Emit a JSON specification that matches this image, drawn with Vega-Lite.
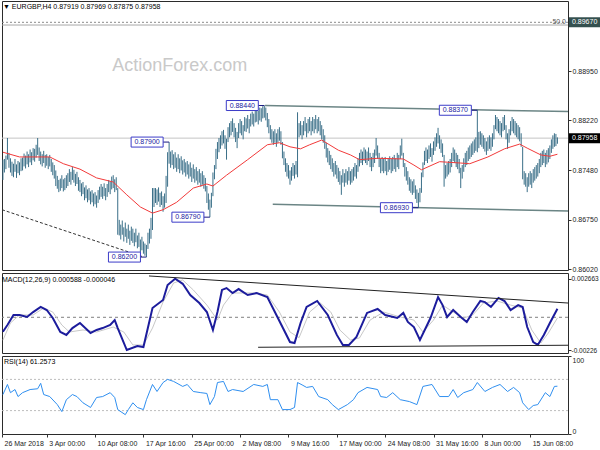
{
"$schema": "https://vega.github.io/schema/vega-lite/v6.json",
"padding": {"left": -2, "top": 0, "right": 0, "bottom": 0},
"background": "white",
"bounds": "flush",
"spacing": 3,
"config": {"view": {"stroke": "#2b2b2b", "strokeWidth": 1}, "font": "Liberation Sans", "axis": {"labelFont": "Liberation Sans", "labelFontSize": 7, "labelColor": "#222", "tickColor": "#333", "tickSize": 3, "domain": false, "grid": false}},
"vconcat": [
{
"width": 566, "height": 269,
"title": {"text": "▼ EURGBP,H4  0.87919 0.87969 0.87875 0.87958", "anchor": "start", "offset": -9, "dx": 3, "fontSize": 7, "fontWeight": "normal", "color": "#000000", "font": "Liberation Sans"},
"layer": [
{"data": {"values": [{"p": 0.8967}]}, "mark": {"type": "rule", "color": "#8a8a8a", "strokeDash": [2, 2], "strokeWidth": 1}, "encoding": {"y": {"field": "p", "type": "quantitative"}}},
{"data": {"values": [{"p": 0.8963}]}, "mark": {"type": "rule", "color": "#a8a8a8", "strokeWidth": 1}, "encoding": {"y": {"field": "p", "type": "quantitative"}}},
{"data": {"values": [{"p": 0.87958}]}, "mark": {"type": "rule", "color": "#c4c4c4", "strokeWidth": 1}, "encoding": {"y": {"field": "p", "type": "quantitative"}}},
{"data": {"values": [{"p": 0.8967, "t": "50.0"}]}, "mark": {"type": "text", "fontSize": 7, "color": "#555555", "align": "right", "baseline": "middle", "xOffset": -2}, "encoding": {"x": {"value": "width"}, "y": {"field": "p", "type": "quantitative"}, "text": {"field": "t", "type": "nominal"}}},
{"data": {"values": [{"w": "ActionForex.com"}]}, "mark": {"type": "text", "fontSize": 18, "font": "Liberation Sans", "color": "#c9c9c9", "align": "center", "baseline": "middle"}, "encoding": {"x": {"datum": 120, "type": "quantitative", "axis": null}, "y": {"datum": 0.8903, "type": "quantitative"}, "text": {"field": "w", "type": "nominal"}}},
{"data": {"values": [{"i": 176.5, "p": 0.8844}, {"i": 377, "p": 0.8835}]}, "mark": {"type": "line", "color": "#6b8585", "strokeWidth": 1.5}, "encoding": {"x": {"field": "i", "type": "quantitative", "axis": null}, "y": {"field": "p", "type": "quantitative"}}},
{"data": {"values": [{"i": 181.6, "p": 0.8698}, {"i": 377, "p": 0.8688}]}, "mark": {"type": "line", "color": "#6b8585", "strokeWidth": 1.5}, "encoding": {"x": {"field": "i", "type": "quantitative", "axis": null}, "y": {"field": "p", "type": "quantitative"}}},
{"data": {"values": [{"i": 2.4, "p": 0.869}, {"i": 95, "p": 0.8621}]}, "mark": {"type": "line", "color": "#333333", "strokeWidth": 1, "strokeDash": [3, 2]}, "encoding": {"x": {"field": "i", "type": "quantitative", "axis": null}, "y": {"field": "p", "type": "quantitative"}}},
{"data": {"values": [
{"i":3,"h":0.8764,"l":0.8734},{"i":4,"h":0.8765,"l":0.8745},{"i":5,"h":0.8770,"l":0.8750},{"i":6,"h":0.8796,"l":0.8764},{"i":7,"h":0.8774,"l":0.8752},{"i":8,"h":0.8766,"l":0.8745},{"i":9,"h":0.8761,"l":0.8740},{"i":10,"h":0.8758,"l":0.8738},{"i":11,"h":0.8765,"l":0.8746},{"i":12,"h":0.8757,"l":0.8737},{"i":13,"h":0.8762,"l":0.8744},{"i":14,"h":0.8760,"l":0.8741},{"i":15,"h":0.8766,"l":0.8747},{"i":16,"h":0.8767,"l":0.8748},{"i":17,"h":0.8773,"l":0.8754},{"i":18,"h":0.8770,"l":0.8751},{"i":19,"h":0.8776,"l":0.8757},{"i":20,"h":0.8772,"l":0.8753},{"i":21,"h":0.8779,"l":0.8760},{"i":22,"h":0.8775,"l":0.8756},{"i":23,"h":0.8781,"l":0.8763},{"i":24,"h":0.8780,"l":0.8761},{"i":25,"h":0.8786,"l":0.8767},{"i":26,"h":0.8796,"l":0.8771},{"i":27,"h":0.8782,"l":0.8762},{"i":28,"h":0.8776,"l":0.8757},{"i":29,"h":0.8772,"l":0.8754},{"i":30,"h":0.8777,"l":0.8759},{"i":31,"h":0.8771,"l":0.8752},{"i":32,"h":0.8772,"l":0.8755},{"i":33,"h":0.8768,"l":0.8750},{"i":34,"h":0.8771,"l":0.8754},{"i":35,"h":0.8765,"l":0.8746},{"i":36,"h":0.8760,"l":0.8741},{"i":37,"h":0.8756,"l":0.8736},{"i":38,"h":0.8748,"l":0.8725},{"i":39,"h":0.8740,"l":0.8721},{"i":40,"h":0.8734,"l":0.8716},{"i":41,"h":0.8736,"l":0.8718},{"i":42,"h":0.8741,"l":0.8722},{"i":43,"h":0.8735,"l":0.8717},{"i":44,"h":0.8737,"l":0.8719},{"i":45,"h":0.8741,"l":0.8722},{"i":46,"h":0.8744,"l":0.8725},{"i":47,"h":0.8750,"l":0.8731},{"i":48,"h":0.8746,"l":0.8727},{"i":49,"h":0.8753,"l":0.8734},{"i":50,"h":0.8749,"l":0.8730},{"i":51,"h":0.8743,"l":0.8725},{"i":52,"h":0.8746,"l":0.8728},{"i":53,"h":0.8738,"l":0.8718},{"i":54,"h":0.8734,"l":0.8716},{"i":55,"h":0.8729,"l":0.8710},{"i":56,"h":0.8731,"l":0.8713},{"i":57,"h":0.8723,"l":0.8704},{"i":58,"h":0.8726,"l":0.8707},{"i":59,"h":0.8720,"l":0.8701},{"i":60,"h":0.8722,"l":0.8704},{"i":61,"h":0.8717,"l":0.8698},{"i":62,"h":0.8719,"l":0.8701},{"i":63,"h":0.8714,"l":0.8695},{"i":64,"h":0.8716,"l":0.8698},{"i":65,"h":0.8711,"l":0.8693},{"i":66,"h":0.8719,"l":0.8700},{"i":67,"h":0.8724,"l":0.8705},{"i":68,"h":0.8728,"l":0.8709},{"i":69,"h":0.8724,"l":0.8706},{"i":70,"h":0.8729,"l":0.8710},{"i":71,"h":0.8722,"l":0.8704},{"i":72,"h":0.8728,"l":0.8709},{"i":73,"h":0.8734,"l":0.8716},{"i":74,"h":0.8732,"l":0.8713},{"i":75,"h":0.8739,"l":0.8720},{"i":76,"h":0.8741,"l":0.8722},{"i":77,"h":0.8735,"l":0.8716},{"i":78,"h":0.8738,"l":0.8719},{"i":79,"h":0.8722,"l":0.8653},{"i":80,"h":0.8675,"l":0.8652},{"i":81,"h":0.8668,"l":0.8646},{"i":82,"h":0.8674,"l":0.8653},{"i":83,"h":0.8664,"l":0.8643},{"i":84,"h":0.8671,"l":0.8650},{"i":85,"h":0.8662,"l":0.8641},{"i":86,"h":0.8668,"l":0.8647},{"i":87,"h":0.8659,"l":0.8638},{"i":88,"h":0.8665,"l":0.8644},{"i":89,"h":0.8662,"l":0.8641},{"i":90,"h":0.8656,"l":0.8636},{"i":91,"h":0.8662,"l":0.8642},{"i":92,"h":0.8652,"l":0.8633},{"i":93,"h":0.8656,"l":0.8635},{"i":94,"h":0.8646,"l":0.8627},{"i":95,"h":0.8650,"l":0.8630},{"i":96,"h":0.8643,"l":0.8625},{"i":97,"h":0.8640,"l":0.8622},{"i":98,"h":0.8638,"l":0.8620},{"i":99,"h":0.8656,"l":0.8632},{"i":100,"h":0.8662,"l":0.8640},{"i":101,"h":0.8678,"l":0.8647},{"i":102,"h":0.8722,"l":0.8660},{"i":103,"h":0.8722,"l":0.8694},{"i":104,"h":0.8722,"l":0.8700},{"i":105,"h":0.8720,"l":0.8697},{"i":106,"h":0.8723,"l":0.8702},{"i":107,"h":0.8715,"l":0.8694},{"i":108,"h":0.8717,"l":0.8697},{"i":109,"h":0.8710,"l":0.8687},{"i":110,"h":0.8714,"l":0.8693},{"i":111,"h":0.8740,"l":0.8700},{"i":112,"h":0.8775,"l":0.8724},{"i":113,"h":0.8790,"l":0.8758},{"i":114,"h":0.8776,"l":0.8752},{"i":115,"h":0.8778,"l":0.8756},{"i":116,"h":0.8772,"l":0.8750},{"i":117,"h":0.8775,"l":0.8752},{"i":118,"h":0.8767,"l":0.8746},{"i":119,"h":0.8772,"l":0.8750},{"i":120,"h":0.8766,"l":0.8744},{"i":121,"h":0.8769,"l":0.8748},{"i":122,"h":0.8763,"l":0.8742},{"i":123,"h":0.8765,"l":0.8745},{"i":124,"h":0.8760,"l":0.8739},{"i":125,"h":0.8762,"l":0.8742},{"i":126,"h":0.8757,"l":0.8736},{"i":127,"h":0.8760,"l":0.8739},{"i":128,"h":0.8752,"l":0.8731},{"i":129,"h":0.8757,"l":0.8736},{"i":130,"h":0.8750,"l":0.8730},{"i":131,"h":0.8753,"l":0.8733},{"i":132,"h":0.8747,"l":0.8727},{"i":133,"h":0.8750,"l":0.8730},{"i":134,"h":0.8744,"l":0.8724},{"i":135,"h":0.8747,"l":0.8727},{"i":136,"h":0.8741,"l":0.8721},{"i":137,"h":0.8737,"l":0.8717},{"i":138,"h":0.8725,"l":0.8700},{"i":139,"h":0.8714,"l":0.8690},{"i":140,"h":0.8705,"l":0.8679},{"i":141,"h":0.8715,"l":0.8693},{"i":142,"h":0.8745,"l":0.8710},{"i":143,"h":0.8756,"l":0.8735},{"i":144,"h":0.8780,"l":0.8750},{"i":145,"h":0.8790,"l":0.8765},{"i":146,"h":0.8796,"l":0.8775},{"i":147,"h":0.8800,"l":0.8780},{"i":148,"h":0.8806,"l":0.8785},{"i":149,"h":0.8808,"l":0.8788},{"i":150,"h":0.8800,"l":0.8780},{"i":151,"h":0.8795,"l":0.8764},{"i":152,"h":0.8812,"l":0.8790},{"i":153,"h":0.8818,"l":0.8797},{"i":154,"h":0.8821,"l":0.8800},{"i":155,"h":0.8825,"l":0.8805},{"i":156,"h":0.8818,"l":0.8797},{"i":157,"h":0.8811,"l":0.8790},{"i":158,"h":0.8805,"l":0.8781},{"i":159,"h":0.8818,"l":0.8796},{"i":160,"h":0.8824,"l":0.8803},{"i":161,"h":0.8821,"l":0.8800},{"i":162,"h":0.8815,"l":0.8794},{"i":163,"h":0.8827,"l":0.8806},{"i":164,"h":0.8825,"l":0.8805},{"i":165,"h":0.8830,"l":0.8810},{"i":166,"h":0.8824,"l":0.8803},{"i":167,"h":0.8832,"l":0.8813},{"i":168,"h":0.8835,"l":0.8816},{"i":169,"h":0.8832,"l":0.8813},{"i":170,"h":0.8838,"l":0.8819},{"i":171,"h":0.8839,"l":0.8820},{"i":172,"h":0.8836,"l":0.8816},{"i":173,"h":0.8841,"l":0.8822},{"i":174,"h":0.8840,"l":0.8820},{"i":175,"h":0.8843,"l":0.8825},{"i":176,"h":0.8844,"l":0.8826},{"i":177,"h":0.8841,"l":0.8822},{"i":178,"h":0.8833,"l":0.8812},{"i":179,"h":0.8824,"l":0.8803},{"i":180,"h":0.8815,"l":0.8794},{"i":181,"h":0.8809,"l":0.8789},{"i":182,"h":0.8806,"l":0.8786},{"i":183,"h":0.8809,"l":0.8789},{"i":184,"h":0.8803,"l":0.8783},{"i":185,"h":0.8809,"l":0.8789},{"i":186,"h":0.8812,"l":0.8792},{"i":187,"h":0.8806,"l":0.8786},{"i":188,"h":0.8790,"l":0.8766},{"i":189,"h":0.8776,"l":0.8756},{"i":190,"h":0.8766,"l":0.8746},{"i":191,"h":0.8759,"l":0.8739},{"i":192,"h":0.8756,"l":0.8736},{"i":193,"h":0.8748,"l":0.8727},{"i":194,"h":0.8753,"l":0.8733},{"i":195,"h":0.8759,"l":0.8740},{"i":196,"h":0.8756,"l":0.8736},{"i":197,"h":0.8762,"l":0.8742},{"i":198,"h":0.8834,"l":0.8738},{"i":199,"h":0.8818,"l":0.8797},{"i":200,"h":0.8821,"l":0.8800},{"i":201,"h":0.8815,"l":0.8794},{"i":202,"h":0.8821,"l":0.8800},{"i":203,"h":0.8827,"l":0.8806},{"i":204,"h":0.8818,"l":0.8797},{"i":205,"h":0.8824,"l":0.8803},{"i":206,"h":0.8827,"l":0.8806},{"i":207,"h":0.8821,"l":0.8800},{"i":208,"h":0.8827,"l":0.8806},{"i":209,"h":0.8824,"l":0.8803},{"i":210,"h":0.8830,"l":0.8809},{"i":211,"h":0.8824,"l":0.8803},{"i":212,"h":0.8827,"l":0.8806},{"i":213,"h":0.8821,"l":0.8800},{"i":214,"h":0.8815,"l":0.8794},{"i":215,"h":0.8809,"l":0.8789},{"i":216,"h":0.8800,"l":0.8780},{"i":217,"h":0.8789,"l":0.8767},{"i":218,"h":0.8781,"l":0.8760},{"i":219,"h":0.8777,"l":0.8756},{"i":220,"h":0.8771,"l":0.8750},{"i":221,"h":0.8766,"l":0.8746},{"i":222,"h":0.8759,"l":0.8739},{"i":223,"h":0.8762,"l":0.8742},{"i":224,"h":0.8756,"l":0.8736},{"i":225,"h":0.8752,"l":0.8731},{"i":226,"h":0.8747,"l":0.8727},{"i":227,"h":0.8741,"l":0.8712},{"i":228,"h":0.8750,"l":0.8730},{"i":229,"h":0.8744,"l":0.8724},{"i":230,"h":0.8750,"l":0.8730},{"i":231,"h":0.8747,"l":0.8727},{"i":232,"h":0.8753,"l":0.8733},{"i":233,"h":0.8747,"l":0.8727},{"i":234,"h":0.8750,"l":0.8730},{"i":235,"h":0.8753,"l":0.8733},{"i":236,"h":0.8759,"l":0.8739},{"i":237,"h":0.8756,"l":0.8736},{"i":238,"h":0.8766,"l":0.8746},{"i":239,"h":0.8774,"l":0.8754},{"i":240,"h":0.8779,"l":0.8759},{"i":241,"h":0.8776,"l":0.8756},{"i":242,"h":0.8782,"l":0.8762},{"i":243,"h":0.8779,"l":0.8759},{"i":244,"h":0.8776,"l":0.8756},{"i":245,"h":0.8782,"l":0.8762},{"i":246,"h":0.8774,"l":0.8753},{"i":247,"h":0.8768,"l":0.8747},{"i":248,"h":0.8774,"l":0.8753},{"i":249,"h":0.8779,"l":0.8759},{"i":250,"h":0.8796,"l":0.8770},{"i":251,"h":0.8785,"l":0.8765},{"i":252,"h":0.8774,"l":0.8753},{"i":253,"h":0.8765,"l":0.8744},{"i":254,"h":0.8768,"l":0.8747},{"i":255,"h":0.8765,"l":0.8744},{"i":256,"h":0.8768,"l":0.8747},{"i":257,"h":0.8762,"l":0.8741},{"i":258,"h":0.8766,"l":0.8746},{"i":259,"h":0.8769,"l":0.8749},{"i":260,"h":0.8765,"l":0.8744},{"i":261,"h":0.8768,"l":0.8747},{"i":262,"h":0.8771,"l":0.8750},{"i":263,"h":0.8766,"l":0.8746},{"i":264,"h":0.8774,"l":0.8753},{"i":265,"h":0.8771,"l":0.8750},{"i":266,"h":0.8785,"l":0.8765},{"i":267,"h":0.8795,"l":0.8770},{"i":268,"h":0.8774,"l":0.8753},{"i":269,"h":0.8759,"l":0.8739},{"i":270,"h":0.8753,"l":0.8733},{"i":271,"h":0.8747,"l":0.8727},{"i":272,"h":0.8738,"l":0.8718},{"i":273,"h":0.8735,"l":0.8715},{"i":274,"h":0.8732,"l":0.8712},{"i":275,"h":0.8735,"l":0.8715},{"i":276,"h":0.8726,"l":0.8706},{"i":277,"h":0.8720,"l":0.8700},{"i":278,"h":0.8715,"l":0.8693},{"i":279,"h":0.8722,"l":0.8701},{"i":280,"h":0.8745,"l":0.8715},{"i":281,"h":0.8760,"l":0.8738},{"i":282,"h":0.8777,"l":0.8756},{"i":283,"h":0.8782,"l":0.8762},{"i":284,"h":0.8779,"l":0.8759},{"i":285,"h":0.8785,"l":0.8765},{"i":286,"h":0.8788,"l":0.8768},{"i":287,"h":0.8781,"l":0.8761},{"i":288,"h":0.8791,"l":0.8771},{"i":289,"h":0.8797,"l":0.8777},{"i":290,"h":0.8803,"l":0.8783},{"i":291,"h":0.8811,"l":0.8788},{"i":292,"h":0.8800,"l":0.8780},{"i":293,"h":0.8794,"l":0.8774},{"i":294,"h":0.8788,"l":0.8768},{"i":295,"h":0.8771,"l":0.8724},{"i":296,"h":0.8756,"l":0.8736},{"i":297,"h":0.8759,"l":0.8739},{"i":298,"h":0.8762,"l":0.8742},{"i":299,"h":0.8765,"l":0.8745},{"i":300,"h":0.8774,"l":0.8753},{"i":301,"h":0.8782,"l":0.8762},{"i":302,"h":0.8779,"l":0.8759},{"i":303,"h":0.8774,"l":0.8753},{"i":304,"h":0.8771,"l":0.8750},{"i":305,"h":0.8765,"l":0.8744},{"i":306,"h":0.8752,"l":0.8722},{"i":307,"h":0.8756,"l":0.8736},{"i":308,"h":0.8766,"l":0.8746},{"i":309,"h":0.8774,"l":0.8753},{"i":310,"h":0.8777,"l":0.8756},{"i":311,"h":0.8782,"l":0.8762},{"i":312,"h":0.8785,"l":0.8765},{"i":313,"h":0.8788,"l":0.8768},{"i":314,"h":0.8791,"l":0.8771},{"i":315,"h":0.8794,"l":0.8774},{"i":316,"h":0.8797,"l":0.8777},{"i":317,"h":0.8837,"l":0.8775},{"i":318,"h":0.8805,"l":0.8781},{"i":319,"h":0.8806,"l":0.8786},{"i":320,"h":0.8803,"l":0.8783},{"i":321,"h":0.8800,"l":0.8780},{"i":322,"h":0.8796,"l":0.8776},{"i":323,"h":0.8791,"l":0.8771},{"i":324,"h":0.8797,"l":0.8777},{"i":325,"h":0.8800,"l":0.8780},{"i":326,"h":0.8797,"l":0.8777},{"i":327,"h":0.8803,"l":0.8783},{"i":328,"h":0.8815,"l":0.8794},{"i":329,"h":0.8830,"l":0.8809},{"i":330,"h":0.8827,"l":0.8806},{"i":331,"h":0.8824,"l":0.8803},{"i":332,"h":0.8821,"l":0.8800},{"i":333,"h":0.8818,"l":0.8797},{"i":334,"h":0.8827,"l":0.8806},{"i":335,"h":0.8830,"l":0.8808},{"i":336,"h":0.8815,"l":0.8794},{"i":337,"h":0.8803,"l":0.8780},{"i":338,"h":0.8809,"l":0.8789},{"i":339,"h":0.8821,"l":0.8800},{"i":340,"h":0.8827,"l":0.8806},{"i":341,"h":0.8824,"l":0.8803},{"i":342,"h":0.8821,"l":0.8800},{"i":343,"h":0.8818,"l":0.8797},{"i":344,"h":0.8815,"l":0.8794},{"i":345,"h":0.8812,"l":0.8791},{"i":346,"h":0.8803,"l":0.8783},{"i":347,"h":0.8783,"l":0.8735},{"i":348,"h":0.8747,"l":0.8727},{"i":349,"h":0.8744,"l":0.8724},{"i":350,"h":0.8738,"l":0.8716},{"i":351,"h":0.8744,"l":0.8724},{"i":352,"h":0.8747,"l":0.8727},{"i":353,"h":0.8744,"l":0.8722},{"i":354,"h":0.8750,"l":0.8730},{"i":355,"h":0.8753,"l":0.8733},{"i":356,"h":0.8756,"l":0.8736},{"i":357,"h":0.8759,"l":0.8739},{"i":358,"h":0.8765,"l":0.8744},{"i":359,"h":0.8774,"l":0.8753},{"i":360,"h":0.8777,"l":0.8756},{"i":361,"h":0.8779,"l":0.8759},{"i":362,"h":0.8774,"l":0.8753},{"i":363,"h":0.8778,"l":0.8757},{"i":364,"h":0.8781,"l":0.8760},{"i":365,"h":0.8785,"l":0.8765},{"i":366,"h":0.8794,"l":0.8774},{"i":367,"h":0.8800,"l":0.8780},{"i":368,"h":0.8803,"l":0.8783},{"i":369,"h":0.8802,"l":0.8784},{"i":370,"h":0.87969,"l":0.87875}
]}, "mark": {"type": "rule", "color": "#3a6f88", "strokeWidth": 1}, "encoding": {
 "x": {"field": "i", "type": "quantitative", "scale": {"domain": [2.4, 377], "nice": false, "zero": false}, "axis": null},
 "y": {"field": "l", "type": "quantitative", "scale": {"domain": [0.86009, 0.89985], "nice": false, "zero": false}, "axis": {"orient": "right", "values": [0.8602, 0.8638, 0.8675, 0.8712, 0.8748, 0.8785, 0.8822, 0.8859, 0.8895, 0.8932], "format": ".5f", "labelPadding": 1, "title": null}},
 "y2": {"field": "h"}}},
{"data": {"values": [
{"i":3,"v":0.8775},{"i":14,"v":0.8768},{"i":23,"v":0.8768},{"i":34,"v":0.8768},{"i":43,"v":0.8758},{"i":54,"v":0.875},{"i":65,"v":0.8737},{"i":76,"v":0.8731},{"i":85,"v":0.8712},{"i":94,"v":0.8694},{"i":102,"v":0.8685},{"i":109,"v":0.869},{"i":118,"v":0.8701},{"i":129,"v":0.8722},{"i":138,"v":0.8728},{"i":142,"v":0.8725},{"i":151,"v":0.8741},{"i":165,"v":0.8764},{"i":178,"v":0.8786},{"i":186,"v":0.8789},{"i":193,"v":0.8783},{"i":200,"v":0.878},{"i":206,"v":0.8786},{"i":214,"v":0.8793},{"i":225,"v":0.8778},{"i":233,"v":0.8771},{"i":239,"v":0.8764},{"i":251,"v":0.8766},{"i":268,"v":0.8765},{"i":275,"v":0.8756},{"i":280,"v":0.8749},{"i":292,"v":0.8761},{"i":306,"v":0.8759},{"i":312,"v":0.8758},{"i":324,"v":0.8768},{"i":335,"v":0.878},{"i":345,"v":0.8787},{"i":350,"v":0.8781},{"i":359,"v":0.8771},{"i":365,"v":0.8769},{"i":370,"v":0.8772}
]}, "mark": {"type": "line", "color": "#f23a3a", "strokeWidth": 1}, "encoding": {"x": {"field": "i", "type": "quantitative", "axis": null}, "y": {"field": "v", "type": "quantitative"}}},
{"data": {"values": [{"i":176,"p":0.8844},{"i":113,"p":0.879},{"i":140,"p":0.8679},{"i":98,"p":0.862},{"i":278,"p":0.8693},{"i":317,"p":0.8837}]}, "mark": {"type": "rule", "color": "#1a1a80", "strokeWidth": 1, "xOffset": -6, "x2Offset": 0}, "encoding": {"x": {"field": "i", "type": "quantitative", "axis": null}, "x2": {"field": "i"}, "y": {"field": "p", "type": "quantitative"}}},
{"data": {"values": [{"i":176,"p":0.8844},{"i":113,"p":0.879},{"i":140,"p":0.8679},{"i":98,"p":0.862},{"i":278,"p":0.8693},{"i":317,"p":0.8837}]}, "mark": {"type": "rect", "fill": "white", "stroke": "#3c3cc8", "strokeWidth": 1, "xOffset": -38, "x2Offset": -6, "yOffset": -5, "y2Offset": 5}, "encoding": {"x": {"field": "i", "type": "quantitative", "axis": null}, "x2": {"field": "i"}, "y": {"field": "p", "type": "quantitative"}, "y2": {"field": "p"}}},
{"data": {"values": [{"i":176,"p":0.8844,"t":"0.88440"},{"i":113,"p":0.879,"t":"0.87900"},{"i":140,"p":0.8679,"t":"0.86790"},{"i":98,"p":0.862,"t":"0.86200"},{"i":278,"p":0.8693,"t":"0.86930"},{"i":317,"p":0.8837,"t":"0.88370"}]}, "mark": {"type": "text", "fontSize": 7, "color": "#1a1aa0", "align": "center", "baseline": "middle", "xOffset": -22}, "encoding": {"x": {"field": "i", "type": "quantitative", "axis": null}, "y": {"field": "p", "type": "quantitative"}, "text": {"field": "t", "type": "nominal"}}},
{"data": {"values": [{"p":0.8967,"t":"0.89670"},{"p":0.87958,"t":"0.87958"}]}, "mark": {"type": "rect", "xOffset": 1, "x2Offset": 34, "yOffset": -5, "y2Offset": 5}, "encoding": {"x": {"value": "width"}, "x2": {"value": "width"}, "y": {"field": "p", "type": "quantitative"}, "y2": {"field": "p"}, "fill": {"field": "t", "type": "nominal", "scale": {"domain": ["0.89670", "0.87958"], "range": ["#34504f", "#000000"]}, "legend": null}}},
{"data": {"values": [{"p":0.8967,"t":"0.89670"},{"p":0.87958,"t":"0.87958"}]}, "mark": {"type": "text", "fontSize": 7, "color": "#ffffff", "align": "left", "baseline": "middle", "xOffset": 4}, "encoding": {"x": {"value": "width"}, "y": {"field": "p", "type": "quantitative"}, "text": {"field": "t", "type": "nominal"}}}
]
},
{
"width": 566, "height": 80,
"title": {"text": "MACD(12,26,9) 0.000588 -0.000046", "anchor": "start", "offset": -9.5, "dx": 3, "fontSize": 7, "fontWeight": "normal", "color": "#000000", "font": "Liberation Sans"},
"layer": [
{"data": {"values": [{"z": 0}]}, "mark": {"type": "rule", "color": "#808080", "strokeDash": [3, 3], "strokeWidth": 1}, "encoding": {"y": {"field": "z", "type": "quantitative"}}},
{"data": {"values": [
{"i":3,"v":-0.00157},{"i":8,"v":-0.00039},{"i":14,"v":0.00016},{"i":23,"v":0.00016},{"i":30,"v":0.00064},{"i":36,"v":0.00036},{"i":42,"v":-0.00053},{"i":47,"v":-0.00101},{"i":56,"v":-0.00087},{"i":65,"v":-0.00101},{"i":76,"v":-0.00067},{"i":83,"v":-0.00101},{"i":89,"v":-0.0019},{"i":96,"v":-0.0019},{"i":102,"v":-0.00074},{"i":109,"v":0.00105},{"i":116,"v":0.00236},{"i":122,"v":0.00256},{"i":129,"v":0.00188},{"i":138,"v":0.00084},{"i":145,"v":-0.00019},{"i":149,"v":0.00084},{"i":155,"v":0.00167},{"i":169,"v":0.00167},{"i":178,"v":0.00153},{"i":186,"v":0.00036},{"i":193,"v":-0.00101},{"i":199,"v":-0.0014},{"i":206,"v":0.00036},{"i":213,"v":0.00098},{"i":220,"v":0.00036},{"i":226,"v":-0.00087},{"i":233,"v":-0.00156},{"i":239,"v":-0.00142},{"i":246,"v":-0.00019},{"i":255,"v":0.00036},{"i":266,"v":0.00002},{"i":275,"v":-0.00019},{"i":281,"v":-0.00101},{"i":288,"v":-0.00019},{"i":294,"v":0.00084},{"i":301,"v":0.00036},{"i":308,"v":-0.00005},{"i":314,"v":0.00016},{"i":321,"v":0.00098},{"i":330,"v":0.00112},{"i":339,"v":0.00084},{"i":347,"v":0.00064},{"i":353,"v":-0.00087},{"i":359,"v":-0.00177},{"i":364,"v":-0.00108},{"i":370,"v":-0.000046}
]}, "mark": {"type": "line", "color": "#c8c8c8", "strokeWidth": 1}, "encoding": {"x": {"field": "i", "type": "quantitative", "axis": null}, "y": {"field": "v", "type": "quantitative"}}},
{"data": {"values": [
{"i":3,"v":-0.00099},{"i":6,"v":-0.00053},{"i":10,"v":0.00016},{"i":14,"v":0.00016},{"i":19,"v":0.00002},{"i":23,"v":0.00036},{"i":28,"v":0.00071},{"i":32,"v":0.0005},{"i":36,"v":-0.00005},{"i":41,"v":-0.00101},{"i":45,"v":-0.00121},{"i":49,"v":-0.00074},{"i":54,"v":-0.00039},{"i":61,"v":-0.00108},{"i":65,"v":-0.00087},{"i":69,"v":-0.00074},{"i":74,"v":-0.00053},{"i":77,"v":-0.00019},{"i":79,"v":-0.00074},{"i":85,"v":-0.00225},{"i":92,"v":-0.00197},{"i":96,"v":-0.00204},{"i":102,"v":0.00064},{"i":109,"v":0.00119},{"i":112,"v":0.00222},{"i":117,"v":0.00265},{"i":122,"v":0.0023},{"i":127,"v":0.00153},{"i":133,"v":0.00098},{"i":138,"v":0.00036},{"i":142,"v":-0.00087},{"i":145,"v":0.00036},{"i":148,"v":0.00188},{"i":151,"v":0.00201},{"i":155,"v":0.00167},{"i":159,"v":0.00194},{"i":165,"v":0.00153},{"i":171,"v":0.00167},{"i":178,"v":0.00139},{"i":184,"v":0.00016},{"i":188,"v":-0.00067},{"i":193,"v":-0.0017},{"i":196,"v":-0.00177},{"i":200,"v":-0.00039},{"i":204,"v":0.00071},{"i":211,"v":0.00112},{"i":218,"v":0.00016},{"i":224,"v":-0.00121},{"i":228,"v":-0.0019},{"i":232,"v":-0.0019},{"i":237,"v":-0.00135},{"i":244,"v":0.0003},{"i":251,"v":0.00057},{"i":256,"v":0.00016},{"i":264,"v":-0.00005},{"i":268,"v":0.0003},{"i":271,"v":-0.00032},{"i":275,"v":-0.00067},{"i":279,"v":-0.00156},{"i":286,"v":-0.00005},{"i":291,"v":0.00139},{"i":294,"v":0.00084},{"i":297,"v":0.00002},{"i":301,"v":0.0005},{"i":306,"v":0.00002},{"i":310,"v":-0.00032},{"i":314,"v":0.00036},{"i":319,"v":0.00112},{"i":322,"v":0.00104},{"i":326,"v":0.00071},{"i":331,"v":0.00133},{"i":335,"v":0.00112},{"i":339,"v":0.0005},{"i":344,"v":0.00084},{"i":347,"v":0.00071},{"i":350,"v":-0.00067},{"i":354,"v":-0.0017},{"i":357,"v":-0.0019},{"i":361,"v":-0.00121},{"i":365,"v":-0.00039},{"i":370,"v":0.000588}
]}, "mark": {"type": "line", "color": "#1c1c9c", "strokeWidth": 2}, "encoding": {
 "x": {"field": "i", "type": "quantitative", "scale": {"domain": [2.4, 377], "nice": false, "zero": false}, "axis": null},
 "y": {"field": "v", "type": "quantitative", "scale": {"domain": [-0.002453, 0.003043], "nice": false, "zero": false}, "axis": {"orient": "right", "values": [0.002663, 0, -0.00226], "labelExpr": "datum.value == 0 ? '0.00' : (datum.value > 0 ? '0.002663' : '-0.00226')", "labelPadding": 0, "labelFontSize": 6.5, "title": null}}}},
{"data": {"values": [{"i": 99.7, "v": 0.00284}, {"i": 377, "v": 0.00098}]}, "mark": {"type": "line", "color": "#222222", "strokeWidth": 1}, "encoding": {"x": {"field": "i", "type": "quantitative", "axis": null}, "y": {"field": "v", "type": "quantitative"}}},
{"data": {"values": [{"i": 171.9, "v": -0.00206}, {"i": 377, "v": -0.00192}]}, "mark": {"type": "line", "color": "#222222", "strokeWidth": 1}, "encoding": {"x": {"field": "i", "type": "quantitative", "axis": null}, "y": {"field": "v", "type": "quantitative"}}}
]
},
{
"width": 566, "height": 78,
"title": {"text": "RSI(14) 61.2573", "anchor": "start", "offset": -9, "dx": 3, "fontSize": 7, "fontWeight": "normal", "color": "#000000", "font": "Liberation Sans"},
"layer": [
{"data": {"values": [{"v": 70}, {"v": 30}]}, "mark": {"type": "rule", "color": "#bdbdbd", "strokeDash": [2, 2], "strokeWidth": 1}, "encoding": {"y": {"field": "v", "type": "quantitative"}}},
{"data": {"values": [
{"i":3,"v":50.6},{"i":6,"v":63.5},{"i":8,"v":53},{"i":11,"v":57},{"i":13,"v":48},{"i":16,"v":53},{"i":21,"v":57},{"i":26,"v":58},{"i":28,"v":65},{"i":30,"v":50.6},{"i":34,"v":48},{"i":39,"v":37.7},{"i":42,"v":28.7},{"i":45,"v":44},{"i":49,"v":50.6},{"i":52,"v":48},{"i":56,"v":40},{"i":61,"v":34},{"i":65,"v":46.8},{"i":69,"v":48},{"i":74,"v":53},{"i":77,"v":46.8},{"i":79,"v":31.3},{"i":84,"v":24.8},{"i":86,"v":31.3},{"i":89,"v":40},{"i":92,"v":34},{"i":96,"v":31.3},{"i":98,"v":44},{"i":102,"v":63.5},{"i":105,"v":54.5},{"i":109,"v":66},{"i":112,"v":70},{"i":116,"v":67.4},{"i":122,"v":61},{"i":125,"v":63.5},{"i":129,"v":54.5},{"i":134,"v":53},{"i":138,"v":52},{"i":140,"v":37.7},{"i":143,"v":48},{"i":145,"v":66},{"i":149,"v":67.4},{"i":152,"v":54.5},{"i":155,"v":57},{"i":162,"v":54.5},{"i":169,"v":63.5},{"i":175,"v":61},{"i":178,"v":63.5},{"i":180,"v":44},{"i":185,"v":44},{"i":188,"v":31.3},{"i":193,"v":31.3},{"i":196,"v":34},{"i":198,"v":66},{"i":201,"v":63},{"i":204,"v":59.7},{"i":208,"v":61},{"i":212,"v":48},{"i":218,"v":44},{"i":221,"v":37.7},{"i":225,"v":31.3},{"i":231,"v":37.7},{"i":235,"v":44},{"i":238,"v":53},{"i":244,"v":59.7},{"i":251,"v":57},{"i":253,"v":48},{"i":257,"v":46.8},{"i":261,"v":53},{"i":266,"v":44},{"i":272,"v":41.6},{"i":277,"v":37.7},{"i":281,"v":61},{"i":287,"v":63.5},{"i":292,"v":48},{"i":298,"v":48},{"i":301,"v":57},{"i":304,"v":46.8},{"i":308,"v":53},{"i":314,"v":57},{"i":317,"v":66},{"i":322,"v":54.5},{"i":327,"v":59.7},{"i":332,"v":63.5},{"i":337,"v":54.5},{"i":341,"v":59.7},{"i":345,"v":53},{"i":347,"v":40},{"i":351,"v":31.3},{"i":354,"v":36.5},{"i":357,"v":37.7},{"i":362,"v":53},{"i":365,"v":48},{"i":368,"v":61},{"i":370,"v":61.26}
]}, "mark": {"type": "line", "color": "#2f8ff0", "strokeWidth": 1}, "encoding": {
 "x": {"field": "i", "type": "quantitative", "scale": {"domain": [2.4, 377], "nice": false, "zero": false}, "axis": {"orient": "bottom", "values": [2.4, 32, 64, 96, 128, 160, 192, 224, 256, 288, 320, 352], "labelExpr": "datum.value < 10 ? '26 Mar 2018' : datum.value < 40 ? '3 Apr 00:00' : datum.value < 70 ? '10 Apr 08:00' : datum.value < 100 ? '17 Apr 16:00' : datum.value < 130 ? '25 Apr 00:00' : datum.value < 170 ? '2 May 08:00' : datum.value < 200 ? '9 May 16:00' : datum.value < 230 ? '17 May 00:00' : datum.value < 260 ? '24 May 08:00' : datum.value < 300 ? '31 May 16:00' : datum.value < 330 ? '8 Jun 00:00' : '15 Jun 08:00'", "labelAlign": "left", "labelOffset": 2, "labelPadding": 2, "labelOverlap": false, "labelFlush": false, "title": null}},
 "y": {"field": "v", "type": "quantitative", "scale": {"domain": [0, 100], "nice": false, "zero": false}, "axis": {"orient": "right", "values": [0, 30, 70, 100], "labelPadding": 1, "labelFlush": true, "title": null}}}}
]
}
]
}
